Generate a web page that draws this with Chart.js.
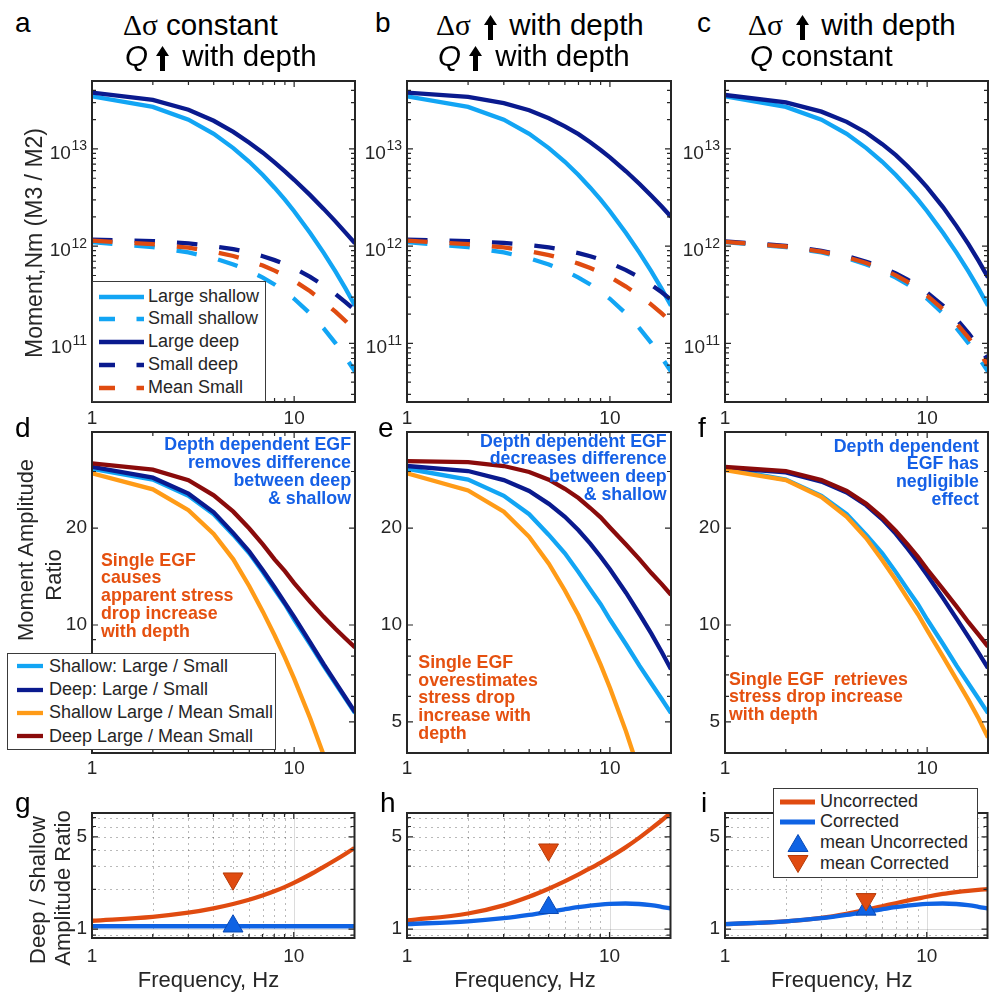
<!DOCTYPE html>
<html>
<head>
<meta charset="utf-8">
<script src="https://cdn.jsdelivr.net/npm/chart.js@4.4.1/dist/chart.umd.min.js"></script>
<style>
body { margin: 0; background: #fff; width: 993px; height: 994px; position: relative; overflow: hidden;
       font-family: "Liberation Sans", Arial, Helvetica, sans-serif; color: #262626; }
canvas { position: absolute; }
.t { position: absolute; white-space: nowrap; }
.gr { font-family: "Liberation Serif", "Times New Roman", serif; }
.lg { position: absolute; background: #fff; border: 1px solid #3a3a3a; box-sizing: border-box; }
</style>
</head>
<body>
<script>
// ---- frequencies (Hz) shared by every curve
const freq = [1, 2, 3, 4, 5, 6, 7, 8, 9, 10, 12, 14, 16, 18, 20]

// ---- row 1: moment spectra (N m)
const largeShallow = [3.47e13, 2.71e13, 2.00e13, 1.43e13, 1.02e13, 7.38e12, 5.40e12, 4.00e12, 3.01e12, 2.29e12, 1.37e12, 8.55e11, 5.51e11, 3.64e11, 2.45e11]
const smallShallow = [1.10e12, 9.77e11, 8.63e11, 7.53e11, 6.50e11, 5.58e11, 4.76e11, 4.04e11, 3.41e11, 2.88e11, 2.03e11, 1.43e11, 1.01e11, 7.18e10, 5.13e10]
// panel a
const largeDeepA = [3.80e13, 3.19e13, 2.53e13, 1.95e13, 1.50e13, 1.16e13, 9.16e12, 7.29e12, 5.89e12, 4.82e12, 3.35e12, 2.42e12, 1.80e12, 1.37e12, 1.07e12]
const smallDeepA = [1.17e12, 1.13e12, 1.07e12, 1.00e12, 9.33e11, 8.61e11, 7.89e11, 7.19e11, 6.55e11, 5.93e11, 4.84e11, 3.95e11, 3.23e11, 2.65e11, 2.19e11]
const meanSmallA = [1.14e12, 1.05e12, 9.66e11, 8.77e11, 7.93e11, 7.10e11, 6.32e11, 5.61e11, 4.98e11, 4.41e11, 3.44e11, 2.69e11, 2.12e11, 1.69e11, 1.35e11]
// panel b
const largeDeepB = [3.80e13, 3.43e13, 2.96e13, 2.50e13, 2.07e13, 1.71e13, 1.42e13, 1.17e13, 9.77e12, 8.20e12, 5.90e12, 4.37e12, 3.30e12, 2.56e12, 2.01e12]
const smallDeepB = [1.17e12, 1.13e12, 1.08e12, 1.03e12, 9.73e11, 9.12e11, 8.49e11, 7.89e11, 7.29e11, 6.73e11, 5.68e11, 4.78e11, 4.00e11, 3.36e11, 2.82e11]
const meanSmallB = [1.14e12, 1.05e12, 9.73e11, 8.91e11, 8.11e11, 7.35e11, 6.62e11, 5.96e11, 5.36e11, 4.81e11, 3.85e11, 3.10e11, 2.51e11, 2.04e11, 1.67e11]
// panel c
const largeDeepC = [3.59e13, 3.01e13, 2.42e13, 1.90e13, 1.47e13, 1.12e13, 8.63e12, 6.65e12, 5.15e12, 4.03e12, 2.51e12, 1.60e12, 1.05e12, 7.02e11, 4.78e11]
const smallDeepC = [1.12e12, 1.01e12, 8.95e11, 7.91e11, 6.93e11, 6.05e11, 5.25e11, 4.53e11, 3.89e11, 3.33e11, 2.44e11, 1.77e11, 1.28e11, 9.29e10, 6.76e10]
const meanSmallC = [1.11e12, 9.93e11, 8.79e11, 7.73e11, 6.71e11, 5.82e11, 5.01e11, 4.29e11, 3.65e11, 3.10e11, 2.23e11, 1.60e11, 1.15e11, 8.24e10, 5.94e10]

// ---- row 2: moment amplitude ratios
const shallowRatio = [30.6, 28.3, 25.2, 22.1, 19.05, 16.7, 14.6, 12.9, 11.6, 10.4, 8.71, 7.46, 6.58, 5.89, 5.32]
const deepRatioD = [31.0, 28.7, 25.6, 22.4, 19.3, 16.9, 14.8, 13.1, 11.7, 10.6, 8.83, 7.55, 6.64, 5.93, 5.36]
const shallowMeanD = [29.6, 26.4, 22.75, 19.2, 16.0, 13.2, 11.0, 9.29, 7.93, 6.81, 5.13, 3.94, 3.08, 2.45, 1.97]
const deepMeanD = [31.8, 30.4, 28.2, 25.3, 22.5, 19.95, 17.8, 16.0, 14.7, 13.5, 11.8, 10.6, 9.73, 9.06, 8.51]
const deepRatioE = [31.2, 30.1, 28.2, 26.1, 23.8, 21.7, 19.7, 17.9, 16.3, 14.9, 12.6, 10.8, 9.40, 8.24, 7.29]
const shallowMeanE = [29.6, 26.2, 22.5, 18.8, 15.5, 12.8, 10.7, 8.93, 7.53, 6.38, 4.67, 3.48, 2.65, 2.04, 1.60]
const deepMeanE = [32.3, 32.1, 31.2, 29.9, 28.3, 26.5, 24.8, 23.1, 21.6, 20.1, 17.8, 16.0, 14.5, 13.4, 12.4]
const deepRatioF = [30.8, 29.8, 27.9, 25.8, 23.55, 21.3, 19.2, 17.3, 15.7, 14.3, 12.1, 10.45, 9.18, 8.17, 7.35]
const shallowMeanF = [30.3, 28.2, 25.0, 21.7, 18.6, 15.9, 13.8, 12.1, 10.8, 9.64, 7.96, 6.75, 5.85, 5.11, 4.47]
const deepMeanF = [31.0, 30.1, 28.2, 26.1, 23.8, 21.6, 19.6, 17.8, 16.3, 14.9, 12.9, 11.4, 10.2, 9.31, 8.57]

// ---- row 3: deep / shallow amplitude ratio
const uncorrG = [1.156, 1.239, 1.330, 1.435, 1.549, 1.667, 1.795, 1.932, 2.080, 2.239, 2.582, 2.951, 3.327, 3.715, 4.121]
const corrG = [1.05, 1.05, 1.05, 1.05, 1.05, 1.05, 1.05, 1.05, 1.05, 1.05, 1.05, 1.05, 1.05, 1.05, 1.05]
const uncorrH = [1.161, 1.312, 1.514, 1.758, 2.023, 2.301, 2.588, 2.884, 3.184, 3.499, 4.169, 4.920, 5.754, 6.637, 7.586]
const corrH = [1.091, 1.143, 1.208, 1.279, 1.349, 1.413, 1.466, 1.507, 1.535, 1.552, 1.563, 1.549, 1.517, 1.476, 1.435]
const uncorrI = [1.091, 1.143, 1.216, 1.306, 1.400, 1.489, 1.570, 1.641, 1.702, 1.758, 1.845, 1.905, 1.950, 1.982, 2.004]
const corrI = [1.091, 1.143, 1.208, 1.279, 1.349, 1.413, 1.466, 1.507, 1.535, 1.552, 1.563, 1.549, 1.517, 1.476, 1.435]
// triangle markers (g, h, i) at 5 Hz
const markFreq = 5
const meanUncorrMark = [1.05, 1.45, 1.41]
const meanCorrMark = [2.41, 4.0, 1.68]

// ---- tick labels
const xTicks = [1, 10]
const xTickLabels = ['1', '10']
const topTicks = [1e11, 1e12, 1e13]
const topTickExp = ['11', '12', '13']
const midTicks = [5, 10, 20]
const midTickLabels = ['5', '10', '20']
const lowTicks = [1, 5]
const lowTickLabels = ['1', '5']

// colours
const cLight = '#12A5F4'
const cNavy = '#0A1A8E'
const cRed = '#E04B10'
const cOrange = '#FF9B17'
const cDark = '#8A0B0B'
const cBlue = '#0F63E4'
const cTextBlue = '#1560E6'
const cTextRed = '#E5500F'
const INK = '#262626'
const FONT = '"Liberation Sans", Arial, Helvetica, sans-serif'

function minorsOf(lo, hi) {
    let out = []
    for (let d = Math.floor(Math.log10(lo)); d <= Math.ceil(Math.log10(hi)); d++) {
        for (let m = 2; m <= 9; m++) {
            let v = m * Math.pow(10, d)
            if (v > lo * 1.0001 && v < hi * 0.9999) out.push(v)
        }
    }
    return out
}

// Box, inward ticks, power-of-ten labels and (optional) grid, drawn through the chart's own scales
const axesBox = {
    id: 'axesBox',
    beforeDatasetsDraw(chart, args, o) {
        if (!o.grid) return
        const ctx = chart.ctx, a = chart.chartArea
        const sx = chart.scales.x, sy = chart.scales.y
        ctx.save()
        ctx.lineWidth = 1
        ctx.strokeStyle = 'rgba(38,38,38,0.32)'
        ctx.setLineDash([2, 4])
        o.grid.xDot.forEach(v => {
            let p = Math.round(sx.getPixelForValue(v)) + 0.5
            if (p > a.left + 1 && p < a.right - 1) { ctx.beginPath(); ctx.moveTo(p, a.top); ctx.lineTo(p, a.bottom); ctx.stroke() }
        })
        o.grid.yDot.forEach(v => {
            let p = Math.round(sy.getPixelForValue(v)) + 0.5
            if (p > a.top + 1 && p < a.bottom - 1) { ctx.beginPath(); ctx.moveTo(a.left, p); ctx.lineTo(a.right, p); ctx.stroke() }
        })
        ctx.setLineDash([])
        ctx.strokeStyle = 'rgba(38,38,38,0.16)'
        o.grid.xSolid.forEach(v => {
            let p = Math.round(sx.getPixelForValue(v)) + 0.5
            ctx.beginPath(); ctx.moveTo(p, a.top); ctx.lineTo(p, a.bottom); ctx.stroke()
        })
        o.grid.ySolid.forEach(v => {
            let p = Math.round(sy.getPixelForValue(v)) + 0.5
            ctx.beginPath(); ctx.moveTo(a.left, p); ctx.lineTo(a.right, p); ctx.stroke()
        })
        ctx.restore()
    },
    afterDraw(chart, args, o) {
        const ctx = chart.ctx, a = chart.chartArea
        const sx = chart.scales.x, sy = chart.scales.y
        ctx.save()
        ctx.strokeStyle = INK
        ctx.lineWidth = 1.2
        const xt = (vals, len) => vals.forEach(v => {
            let p = sx.getPixelForValue(v)
            if (p <= a.left + 1 || p >= a.right - 1) return
            ctx.beginPath(); ctx.moveTo(p, a.bottom); ctx.lineTo(p, a.bottom - len)
            ctx.moveTo(p, a.top); ctx.lineTo(p, a.top + len); ctx.stroke()
        })
        const yt = (vals, len) => vals.forEach(v => {
            let p = sy.getPixelForValue(v)
            if (p <= a.top + 1 || p >= a.bottom - 1) return
            ctx.beginPath(); ctx.moveTo(a.left, p); ctx.lineTo(a.left + len, p)
            ctx.moveTo(a.right, p); ctx.lineTo(a.right - len, p); ctx.stroke()
        })
        xt(o.xMinor, 4); xt(o.xMajor, 6)
        yt(o.yMinor, 4); yt(o.yMajor, 6)
        ctx.lineWidth = 2
        ctx.strokeRect(a.left, a.top, a.right - a.left, a.bottom - a.top)
        // 10^n labels with a raised exponent
        if (o.exp) {
            ctx.fillStyle = INK
            ctx.textBaseline = 'alphabetic'
            o.yMajor.forEach((v, i) => {
                let p = sy.getPixelForValue(v)
                ctx.font = '14px ' + FONT
                ctx.textAlign = 'left'
                let w = ctx.measureText(o.exp[i]).width
                let xe = a.left - 5 - w
                ctx.fillText(o.exp[i], xe, p + 1.5)
                ctx.font = '19px ' + FONT
                ctx.textAlign = 'right'
                ctx.fillText('10', xe - 0.5, p + 10)
            })
        }
        ctx.restore()
    }
}

function curve(vals, color, dashed, order, smooth) {
    return {
        data: freq.map((f, i) => ({ x: f, y: vals[i] })),
        borderColor: color,
        borderWidth: 4.3,
        borderDash: dashed ? [20.5, 22] : [],
        pointRadius: 0,
        fill: false,
        tension: 0,
        cubicInterpolationMode: smooth ? 'monotone' : 'default',
        order: order,
        clip: 0
    }
}

function marker(yv, color, edge, down, order) {
    return {
        data: [{ x: markFreq, y: yv }],
        showLine: false,
        pointStyle: 'triangle',
        pointRadius: 11.5,
        pointRotation: down ? 180 : 0,
        backgroundColor: color,
        borderColor: edge,
        borderWidth: 1,
        order: order,
        clip: false
    }
}

// plot rectangles (page pixels)
const colL = [92, 407, 725]
const colW = [263, 264, 263]
const rowT = [81, 432, 813]
const rowH = [321, 321, 125]

function panel(col, row, datasets, yax, labelPad, grid) {
    const L = colL[col], T = rowT[row], W = colW[col], H = rowH[row]
    const canvas = document.createElement('canvas')
    canvas.width = W + 102
    canvas.height = H + 20 + 34
    canvas.style.left = (L - 90) + 'px'
    canvas.style.top = (T - 20) + 'px'
    document.body.appendChild(canvas)
    new Chart(canvas, {
        type: 'line',
        data: { datasets: datasets },
        options: {
            responsive: false,
            animation: false,
            devicePixelRatio: 1,
            layout: { padding: { left: 0, right: 12, top: 20, bottom: 0 } },
            plugins: {
                legend: { display: false },
                tooltip: { enabled: false },
                axesBox: {
                    xMajor: xTicks, xMinor: minorsOf(1, 20),
                    yMajor: yax.ticks, yMinor: minorsOf(yax.min, yax.max).filter(v => yax.ticks.indexOf(v) < 0),
                    grid: grid, exp: yax.exp
                }
            },
            scales: {
                x: {
                    type: 'logarithmic', min: 1, max: 20,
                    grid: { display: false, drawTicks: false }, border: { display: false },
                    ticks: {
                        autoSkip: false, maxRotation: 0, padding: labelPad, color: INK,
                        font: { family: FONT, size: 19 },
                        callback: v => xTickLabels[xTicks.indexOf(v)] || ''
                    },
                    afterBuildTicks: s => { s.ticks = xTicks.map(v => ({ value: v })) },
                    afterFit: s => { s.height = 34 }
                },
                y: {
                    type: 'logarithmic', min: yax.min, max: yax.max,
                    grid: { display: false, drawTicks: false }, border: { display: false },
                    ticks: {
                        autoSkip: false, padding: 5, color: INK,
                        font: { family: FONT, size: 19 },
                        callback: v => yax.labels ? (yax.labels[yax.ticks.indexOf(v)] || '') : ''
                    },
                    afterBuildTicks: s => { s.ticks = yax.ticks.map(v => ({ value: v })) },
                    afterFit: s => { s.width = 90 }
                }
            }
        },
        plugins: [axesBox]
    })
}

const yTop = { min: 2.5e10, max: 5.0e13, ticks: topTicks, exp: topTickExp }
const yMid = { min: 4.0, max: 39.8, ticks: midTicks, labels: midTickLabels }
const yLow = { min: 0.855, max: 7.6, ticks: lowTicks, labels: lowTickLabels }
const lowGrid = { xDot: [2, 3, 4, 5, 6, 7, 8, 9], xSolid: [10], yDot: [0.9, 2, 3, 4, 5, 6, 7], ySolid: [1] }

// Row 1
panel(0, 0, [
    curve(meanSmallA, cRed, true, 1), curve(smallDeepA, cNavy, true, 2), curve(smallShallow, cLight, true, 3),
    curve(largeDeepA, cNavy, false, 4), curve(largeShallow, cLight, false, 5)], yTop, 5)
panel(1, 0, [
    curve(meanSmallB, cRed, true, 1), curve(smallDeepB, cNavy, true, 2), curve(smallShallow, cLight, true, 3),
    curve(largeDeepB, cNavy, false, 4), curve(largeShallow, cLight, false, 5)], yTop, 5)
panel(2, 0, [
    curve(meanSmallC, cRed, true, 1), curve(smallDeepC, cNavy, true, 2), curve(smallShallow, cLight, true, 3),
    curve(largeDeepC, cNavy, false, 4), curve(largeShallow, cLight, false, 5)], yTop, 5)

// Row 2
panel(0, 1, [
    curve(deepMeanD, cDark, false, 1), curve(shallowMeanD, cOrange, false, 2),
    curve(deepRatioD, cNavy, false, 3), curve(shallowRatio, cLight, false, 4)], yMid, 4.5)
panel(1, 1, [
    curve(deepMeanE, cDark, false, 1), curve(shallowMeanE, cOrange, false, 2),
    curve(deepRatioE, cNavy, false, 3), curve(shallowRatio, cLight, false, 4)], yMid, 4.5)
panel(2, 1, [
    curve(deepMeanF, cDark, false, 1), curve(shallowMeanF, cOrange, false, 2),
    curve(deepRatioF, cNavy, false, 3), curve(shallowRatio, cLight, false, 4)], yMid, 4.5)

// Row 3
const lowSets = [[uncorrG, corrG], [uncorrH, corrH], [uncorrI, corrI]]
lowSets.forEach((s, k) => {
    panel(k, 2, [
        marker(meanCorrMark[k], cRed, '#B63B08', true, 1),
        marker(meanUncorrMark[k], cBlue, '#0A4AB4', false, 2),
        curve(s[1], cBlue, false, 3, true),
        curve(s[0], cRed, false, 4, true)], yLow, 7.5, lowGrid)
})

// ---------- text helpers
function put(html, x, base, size, o) {
    o = o || {}
    let d = document.createElement('div')
    d.className = 't'
    d.innerHTML = html
    d.style.fontSize = size + 'px'
    d.style.lineHeight = size + 'px'
    d.style.top = (base - 0.8465 * size) + 'px'
    d.style.left = x + 'px'
    if (o.align === 'right') d.style.transform = 'translateX(-100%)'
    if (o.align === 'center') d.style.transform = 'translateX(-50%)'
    if (o.bold) d.style.fontWeight = 'bold'
    d.style.color = o.color || INK
    document.body.appendChild(d)
    return d
}
function rot(html, baseX, cy, size) {
    let d = document.createElement('div')
    d.className = 't'
    d.innerHTML = html
    d.style.fontSize = size + 'px'
    d.style.lineHeight = size + 'px'
    d.style.left = (baseX - 0.3465 * size) + 'px'
    d.style.top = cy + 'px'
    d.style.transform = 'translate(-50%, -50%) rotate(-90deg)'
    document.body.appendChild(d)
}

// titles
function arrow(ml, mr) {
    return '<svg width="13" height="25" viewBox="0 0 13 25" style="vertical-align:-5px;margin:0 ' + mr + 'px 0 ' + ml + 'px">' +
        '<path d="M6.5 0 L13 10 L9 10 L9 25 L4 25 L4 10 L0 10 Z" fill="#000"/></svg>'
}
const ds = '<span class="gr">Δσ</span>'
const Q = '<i>Q</i>'
const TS = 29.5
put(ds + ' constant', 123, 34.5, TS, { color: '#000' })
put(Q + arrow(8, 5) + ' with depth', 125, 66, TS, { color: '#000' })
put(ds + ' ' + arrow(4.5, 4.5) + ' with depth', 436, 34.5, TS, { color: '#000' })
put(Q + arrow(8, 5) + ' with depth', 438, 66, TS, { color: '#000' })
put(ds + ' ' + arrow(4.5, 4.5) + ' with depth', 748, 34.5, TS, { color: '#000' })
put(Q + ' constant', 750, 66, TS, { color: '#000' })

// panel letters
const letters = [['a', 15, 33], ['b', 375, 33], ['c', 697, 33], ['d', 15, 438], ['e', 378, 438], ['f', 698, 438],
                 ['g', 15, 813], ['h', 380, 813], ['i', 701, 813]]
letters.forEach(l => put(l[0], l[1], l[2], 28, { color: '#000' }))

// axis labels
rot('Moment,Nm (M3 / M2)', 42, 243, 23)
rot('Moment Amplitude', 34, 550, 22)
rot('Ratio', 61.5, 575, 22)
rot('Deep / Shallow', 46, 890, 22)
rot('Amplitude Ratio', 71, 887.5, 22)
;[208.5, 525, 841.7].forEach(cx => put('Frequency, Hz', cx, 988, 22, { align: 'center' }))

// annotations
function block(lines, x, base0, step, color, align) {
    lines.forEach((s, i) => put(s, x, base0 + i * step, 17.8, { bold: true, color: color, align: align }))
}
block(['Depth dependent EGF', 'removes difference', 'between deep', '&amp; shallow'], 351, 451.5, 17.9, cTextBlue, 'right')
block(['Depth dependent EGF', 'decreases difference', 'between deep', '&amp; shallow'], 666.7, 447.7, 17.7, cTextBlue, 'right')
block(['Depth dependent', 'EGF has', 'negligible', 'effect'], 979, 452.7, 17.8, cTextBlue, 'right')
block(['Single EGF', 'causes', 'apparent stress', 'drop increase', 'with depth'], 101, 566.7, 17.8, cTextRed)
block(['Single EGF', 'overestimates', 'stress drop', 'increase with', 'depth'], 418.3, 669, 17.75, cTextRed)
block(['Single EGF&nbsp; retrieves', 'stress drop increase', 'with depth'], 729, 685.7, 17.8, cTextRed)

// ---------- legends
function box(l, t, w, h) {
    let d = document.createElement('div')
    d.className = 'lg'
    d.style.left = l + 'px'; d.style.top = t + 'px'; d.style.width = w + 'px'; d.style.height = h + 'px'
    document.body.appendChild(d)
}
function sample(x1, x2, y, color, w, dash) {
    let s = document.createElementNS('http://www.w3.org/2000/svg', 'svg')
    s.setAttribute('width', x2 - x1); s.setAttribute('height', 12)
    s.style.position = 'absolute'; s.style.left = x1 + 'px'; s.style.top = (y - 6) + 'px'
    s.innerHTML = '<line x1="0" y1="6" x2="' + (x2 - x1) + '" y2="6" stroke="' + color + '" stroke-width="' + w + '"' +
        (dash ? ' stroke-dasharray="' + dash + '"' : '') + '/>'
    document.body.appendChild(s)
}
function tri(cx, cy, color, edge, down) {
    let s = document.createElementNS('http://www.w3.org/2000/svg', 'svg')
    s.setAttribute('width', 24); s.setAttribute('height', 24)
    s.style.position = 'absolute'; s.style.left = (cx - 12) + 'px'; s.style.top = (cy - 12) + 'px'
    let pts = down ? '2,3.5 22,3.5 12,20.5' : '12,3.5 22,20.5 2,20.5'
    s.innerHTML = '<polygon points="' + pts + '" fill="' + color + '" stroke="' + edge + '" stroke-width="1"/>'
    document.body.appendChild(s)
}

// legend a
box(92, 281, 174, 121)
const legA = [['Large shallow', cLight, ''], ['Small shallow', cLight, '16 21.5'], ['Large deep', cNavy, ''],
              ['Small deep', cNavy, '16 21.5'], ['Mean Small', cRed, '16 21.5']]
legA.forEach((r, i) => {
    let cy = 296.7 + i * 22.7
    sample(99, 144, cy, r[1], 4.3, r[2])
    put(r[0], 148, cy + 5.3, 18)
})

// legend d
box(7, 652.5, 269, 97)
const legD = [['Shallow: Large / Small', cLight], ['Deep: Large / Small', cNavy],
              ['Shallow Large / Mean Small', cOrange], ['Deep Large / Mean Small', cDark]]
legD.forEach((r, i) => {
    let cy = 666.3 + i * 23.3
    sample(16.7, 42.7, cy, r[1], 4.3)
    put(r[0], 49, cy + 5.6, 18)
})

// legend i
box(772.5, 788.3, 205.5, 90)
sample(780, 815, 801.7, cRed, 5)
put('Uncorrected', 820, 807.3, 18)
sample(780, 815, 821.7, cBlue, 5)
put('Corrected', 820, 827.3, 18)
tri(797.7, 843, cBlue, '#0A4AB4', false)
put('mean Uncorrected', 820, 848.3, 18)
tri(797.7, 863.5, cRed, '#B63B08', true)
put('mean Corrected', 820, 869, 18)
</script>
</body>
</html>
